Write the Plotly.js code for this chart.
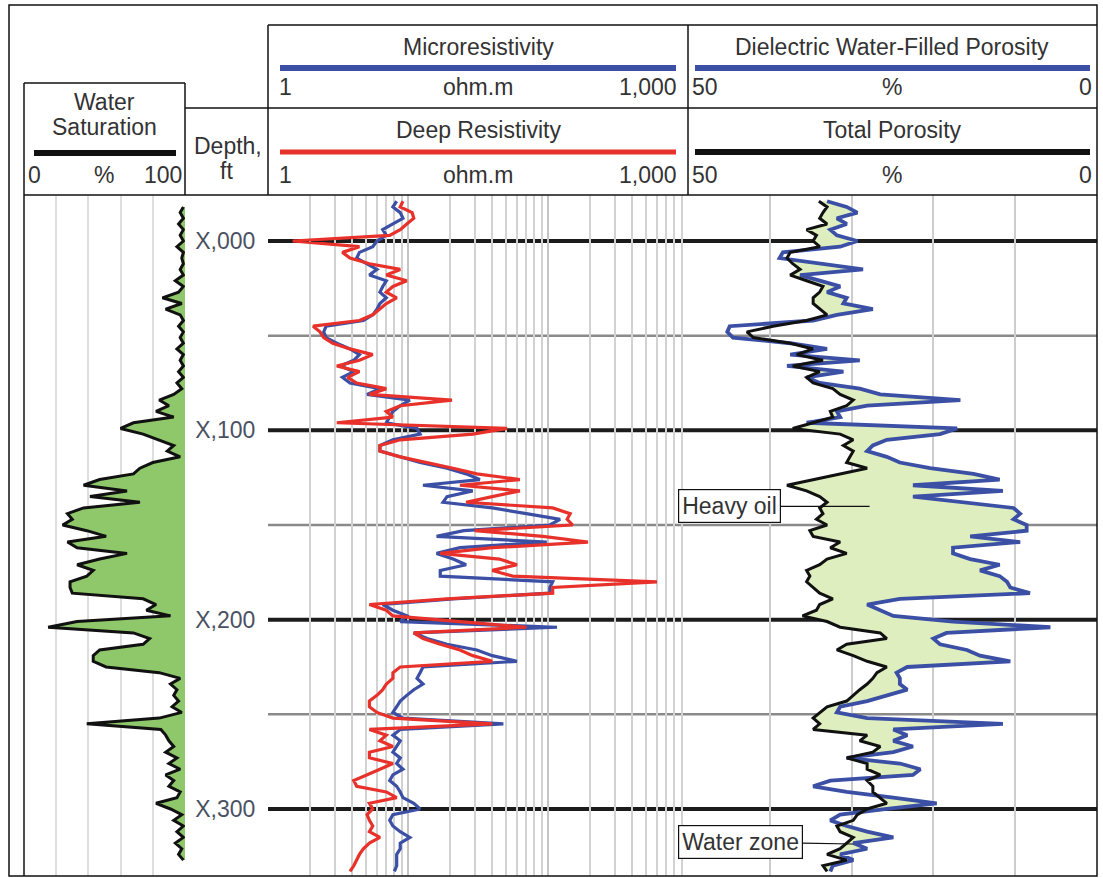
<!DOCTYPE html>
<html><head><meta charset="utf-8">
<script src="https://cdn.plot.ly/plotly-3.0.1.min.js"></script>
<style>html,body{margin:0;padding:0;background:#fff;} #chart{width:1103px;height:878px;}</style>
</head><body><div id="chart"></div>
<script>
// Depth (ft below X,000)
const depth = [-21,-18,-15,-12,-9,-6,-3,0,3,6,
  9,12,15,18,21,24,27,30,33,36,
  39,42,45,48,51,54,57,60,63,66,
  69,72,75,78,81,84,87,90,93,96,
  99,102,105,108,111,114,117,120,123,126,
  129,132,135,138,141,144,147,150,153,156,
  159,162,165,168,171,174,177,180,183,186,
  189,192,195,198,201,204,207,210,213,216,
  219,222,225,228,231,234,237,240,243,246,
  249,252,255,258,261,264,267,270,273,276,
  279,282,285,288,291,294,297,300,303,306,
  309,312,315,318,321,324,327,330,333];

// Deep resistivity, ohm.m
const deepRes = [9.2,8.8,10.7,11,9.8,8.8,7.4,1.5,4.5,3.4,
  3.85,5.3,8.8,7,9.8,7.8,7,8.3,7,6.3,
  5.6,4.5,2.1,2.35,2.5,2.9,3.85,5.6,4.5,3.1,
  4.5,3.7,4.3,7,5.3,20.6,8.8,7,7.8,3.1,
  51,29,8.8,6.3,6.3,8.8,13.7,21,31,63,
  23.5,63,40,26,108,144,137,150,30,92,
  193,40,17,45,60,40,56,600,108,108,
  19,5.3,7,7.8,23.5,70,11,12.8,17,23.5,
  29,40,8.8,7.8,7.8,7,6.6,6,5.3,5.3,
  6,7.8,40,5.3,7,6.3,7.8,5.3,5.3,7.8,
  6.3,5.1,4.1,4.3,7,8.3,5.3,5.6,5.1,5.3,
  5.6,5.3,6.3,5.3,4.8,4.5,4.3,4.1,3.85];

// Microresistivity, ohm.m
const microRes = [8.3,7.8,8.8,9.2,7.8,6.6,7,6,5.6,4.5,
  4.3,5.1,6,5.3,7,6.6,6.3,7,6.3,6,
  5.6,4.8,2.6,2.5,2.6,3.1,3.85,4.5,4.1,3.3,
  4.1,3.4,3.85,6.3,5.1,10.3,8.8,7.8,7.4,7,
  11.6,12.2,7.8,6.3,6.3,8.8,12.2,19,26,32.6,
  12.8,29,19,17.8,40,70,122,103,25,16,
  98,23.5,16,21,26,17,17,108,103,103,
  21,6.6,7.8,9.8,8.8,116,11,13.7,19,31,
  40,60,12.8,12.2,11.6,12.8,11,9.8,8.8,8.3,
  7.8,9.2,48,8.8,7.8,8.8,8.3,7.8,8.8,8.3,
  9.2,7.8,7.4,8.3,8.8,9.2,11,12.2,7.8,7.4,
  7.8,8.8,10.3,8.8,8.8,8.3,8.3,8.3,8];

// Total porosity, %
const totalPor = [34,33,33.5,33.9,33,35.5,34.3,34.7,33.9,37.5,
  37.9,37.2,36.3,37.5,35.5,33.5,33.9,34.7,34.7,33.9,
  33,35.5,39.6,42.8,42,37.5,34.7,36.7,33.5,37.2,
  33.9,35.5,34.7,32.3,31.4,29.8,30.6,32.6,32.3,34.7,
  37.2,31.4,29.8,31,29.8,30.2,30.6,28.1,31.4,34.7,
  37.9,35.5,33.9,33,33.9,33.5,34.3,33,35.1,34.7,
  31.4,32.6,30.6,33,33.9,35.5,35.1,35.5,34.7,33.9,
  32.3,33.9,34.3,36,33,31.4,26.5,25.7,30.6,31.8,
  29.8,28.1,25.7,26.9,27.4,28.1,29,29.8,30.6,33,
  33.9,34.7,33.9,34.7,28.1,29,26.5,27.4,30.6,28.1,
  28.1,26.5,28.1,27.4,27.4,26.5,25.7,28.1,29.3,29.8,
  31.8,31.4,29.8,30.6,31.4,33,30.6,33.5,33];

// Dielectric water-filled porosity, %
const dielPor = [33,30.6,29.3,31.8,30.6,32.6,31.8,29.3,31.4,38.4,
  38.8,33.9,28.6,36.3,33.9,31.4,33,30.6,31,27.4,
  31.8,34.7,44.9,45.2,44.5,37.5,33,37.5,29,37.9,
  31,35.5,33.9,29,26.5,16.7,28.1,31.8,31.4,35.5,
  17.1,19.2,25.7,27.4,28.1,25.7,24.1,20.4,15.1,11.9,
  22.5,11.5,22.5,16.4,10.2,9.4,10.2,8.6,8.6,15.5,
  9.4,17.6,17.6,15.5,11.9,14.3,11.9,11,10.6,8.2,
  24.1,28.1,26.5,24.9,17.6,5.7,18.4,20,19.2,15.9,
  14.3,10.6,23.2,24.5,24.1,24.1,23.2,25.7,28.1,31.4,
  31.8,28.1,11.5,24.9,23.2,24.9,22.5,24.9,30.6,24.1,
  21.6,22.5,32.6,34.7,30.6,24.9,19.6,25.7,31.4,32.6,
  30.6,28.1,24.9,29.8,28.1,31.4,29.8,32.3,32.6];

// Water saturation, % (depths -18 .. 327)
const swDepth = depth.slice(1, 117);
const waterSat = [99,97,99,96,99,97,99,95,99,98,
  99,97,99,94,99,96,86,98,88,97,
  99,96,99,97,99,95,99,97,99,96,
  99,95,98,93,84,90,82,93,68,60,
  74,84,93,89,97,80,72,68,47,37,
  64,41,72,37,27,30,24,39,51,27,
  33,64,47,33,43,39,28.6,28.6,30,74,
  82,76,91,33,15,68,78,74,47,43,
  43,51,84,97,91,95,93,96,92,98,
  84,39,85,88,90,93,88,95,90,97,
  88,93,90,97,95,82,91,98,93,99,
  95,99,94,98,96,99];

const depthTicks = [0, 100, 200, 300];
const depthTickText = ['X,000', 'X,100', 'X,200', 'X,300'];
const majorMarks = [0, 100, 200, 300];
const minorMarks = [50, 150, 250];

const W = 1103, H = 878;
const px = x => x / W, py = y => 1 - y / H;
const FONT = 'Liberation Sans, Arial, sans-serif';
const FS = 23;
const BLUE = '#3b4fa5', RED = '#e8312a', BLACK = '#111111';

const porFillEdge = dielPor.map((v, i) => Math.min(v, totalPor[i]));

const traces = [
  {x: swDepth.map(() => 100), y: swDepth, xaxis: 'x', yaxis: 'y', mode: 'lines',
   line: {width: 0}, hoverinfo: 'skip'},
  {x: waterSat, y: swDepth, xaxis: 'x', yaxis: 'y', mode: 'lines', fill: 'tonextx',
   fillcolor: '#8fc86a', line: {color: BLACK, width: 3}},
  {x: microRes, y: depth, xaxis: 'x2', yaxis: 'y', mode: 'lines',
   line: {color: BLUE, width: 3.2}},
  {x: deepRes, y: depth, xaxis: 'x2', yaxis: 'y', mode: 'lines',
   line: {color: RED, width: 3.2}},
  {x: totalPor, y: depth, xaxis: 'x3', yaxis: 'y', mode: 'lines',
   line: {width: 0}, hoverinfo: 'skip'},
  {x: porFillEdge, y: depth, xaxis: 'x3', yaxis: 'y', mode: 'lines', fill: 'tonextx',
   fillcolor: '#dfeebf', line: {width: 0}, hoverinfo: 'skip'},
  {x: dielPor, y: depth, xaxis: 'x3', yaxis: 'y', mode: 'lines',
   line: {color: BLUE, width: 3.8}},
  {x: totalPor, y: depth, xaxis: 'x3', yaxis: 'y', mode: 'lines',
   line: {color: BLACK, width: 3}}
];

function L(x0, y0, x1, y1, color, width) {
  return {type: 'line', xref: 'paper', yref: 'paper', x0: px(x0), y0: py(y0), x1: px(x1), y1: py(y1),
          line: {color: color || '#111', width: width || 1.5}};
}
const shapes = [];
majorMarks.forEach(d => shapes.push({type: 'line', xref: 'paper', yref: 'y', x0: px(268), x1: px(1097),
  y0: d, y1: d, layer: 'below', line: {color: '#1c1c1c', width: 4}}));
minorMarks.forEach(d => shapes.push({type: 'line', xref: 'paper', yref: 'y', x0: px(268), x1: px(1097),
  y0: d, y1: d, layer: 'below', line: {color: '#8a8a8a', width: 2.5}}));
shapes.push(
  {type: 'rect', xref: 'paper', yref: 'paper', x0: px(9), y0: py(5), x1: px(1097), y1: py(876),
   line: {color: '#111', width: 1.5}},
  L(268, 25, 1097, 25), L(268, 25, 268, 195), L(688, 25, 688, 195),
  L(185, 108, 1097, 108), L(24, 83, 185, 83), L(24, 83, 24, 876), L(185, 83, 185, 195),
  L(24, 195, 1097, 195),
  L(280, 68, 676, 68, BLUE, 6), L(280, 152, 676, 152, RED, 5),
  L(695, 68, 1090, 68, BLUE, 6), L(695, 152, 1090, 152, BLACK, 6),
  L(34, 153, 176, 153, BLACK, 6)
);

function T(text, x, y, xanchor) {
  return {text: text, x: px(x), y: py(y), xref: 'paper', yref: 'paper', xanchor: xanchor || 'center',
          yanchor: 'middle', showarrow: false, borderpad: 0,
          font: {family: FONT, size: FS, color: '#333'}};
}
const annotations = [
  T('Microresistivity', 478, 47), T('1', 278, 87, 'left'), T('ohm.m', 478, 87), T('1,000', 678, 87, 'right'),
  T('Deep Resistivity', 478, 130), T('1', 278, 175, 'left'), T('ohm.m', 478, 175), T('1,000', 678, 175, 'right'),
  T('Dielectric Water-Filled Porosity', 892, 47), T('50', 691, 87, 'left'), T('%', 892, 87), T('0', 1093, 87, 'right'),
  T('Total Porosity', 892, 130), T('50', 691, 175, 'left'), T('%', 892, 175), T('0', 1093, 175, 'right'),
  T('Water', 104, 102), T('Saturation', 104, 127),
  T('0', 27, 175, 'left'), T('%', 104, 175), T('100', 183, 175, 'right'),
  T('Depth,', 228, 146), T('ft', 226, 171),
  {text: 'Heavy oil', xref: 'x3', yref: 'y', x: 27.8, y: 140.2, showarrow: true, arrowhead: 0,
   arrowwidth: 1.2, arrowcolor: '#111', ax: -140, ay: 0, bordercolor: '#111', borderwidth: 1.2,
   borderpad: 3, bgcolor: '#fff', font: {family: FONT, size: FS, color: '#333'}},
  {text: 'Water zone', xref: 'x3', yref: 'y', x: 29.8, y: 318.5, showarrow: true, arrowhead: 0,
   arrowwidth: 1.2, arrowcolor: '#111', ax: -113, ay: -2, bordercolor: '#111', borderwidth: 1.2,
   borderpad: 3, bgcolor: '#fff', font: {family: FONT, size: FS, color: '#333'}}
];

const noTicks = {showticklabels: false, ticks: '', zeroline: false, showline: false, fixedrange: true};
const layout = {
  width: W, height: H, margin: {l: 0, r: 0, t: 0, b: 0}, showlegend: false,
  paper_bgcolor: '#fff', plot_bgcolor: 'rgba(0,0,0,0)', font: {family: FONT},
  xaxis: Object.assign({domain: [px(24), px(185)], range: [0, 100], anchor: 'y', dtick: 20,
    showgrid: true, gridcolor: '#dedede', gridwidth: 2}, noTicks),
  xaxis2: Object.assign({domain: [px(268), px(688)], type: 'log', range: [0, 3], anchor: 'y', dtick: 1,
    showgrid: true, gridcolor: '#c4c4c4', gridwidth: 2,
    minor: {dtick: 'D1', showgrid: true, gridcolor: '#d2d2d2', gridwidth: 2}}, noTicks),
  xaxis3: Object.assign({domain: [px(688), px(1097)], range: [50, 0], anchor: 'y', dtick: 10,
    showgrid: true, gridcolor: '#cdcdcd', gridwidth: 2}, noTicks),
  yaxis: {domain: [py(876), py(195)], range: [335.4, -24.3], anchor: 'free', position: px(268),
    tickvals: depthTicks, ticktext: depthTickText, ticks: 'outside', ticklen: 8,
    tickcolor: 'rgba(0,0,0,0)', showgrid: false, zeroline: false, showline: false, fixedrange: true,
    tickfont: {family: FONT, size: FS, color: '#4a5163'}},
  shapes: shapes, annotations: annotations
};
Plotly.newPlot('chart', traces, layout, {staticPlot: true, displayModeBar: false});
</script>
</body></html>
